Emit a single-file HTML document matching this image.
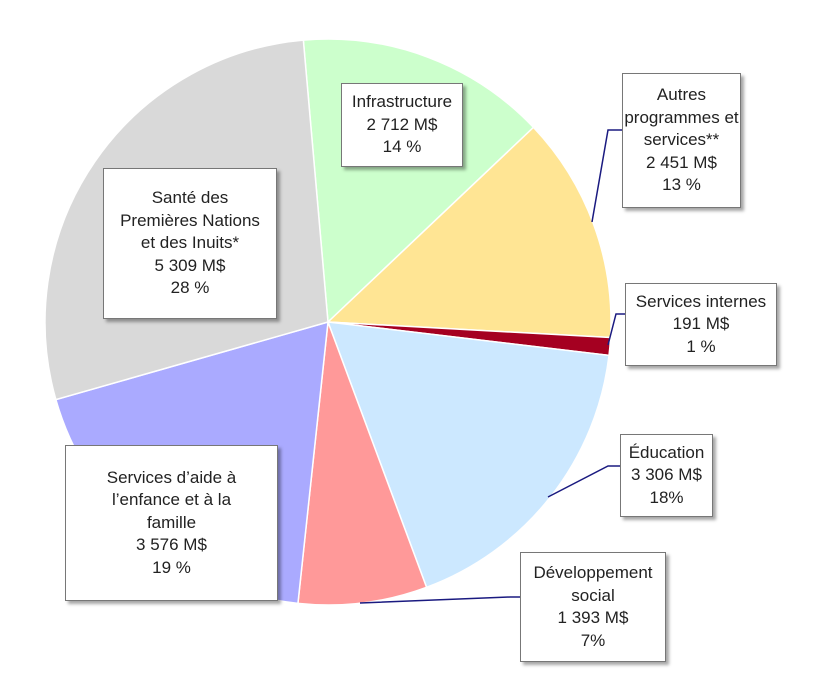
<!DOCTYPE html>
<html><head><meta charset="utf-8"><style>
body{margin:0;background:#fff;width:820px;height:690px;overflow:hidden;font-family:"Liberation Sans",sans-serif}
.lbl{position:absolute;background:#fff;border:1px solid #777;box-shadow:3px 3px 3px rgba(0,0,0,0.35);text-align:center;font-size:17px;line-height:22.5px;color:#222;display:flex;flex-direction:column;justify-content:center;box-sizing:border-box}
</style></head><body>
<svg id="chart" width="820" height="690" style="position:absolute;left:0;top:0">
<g id="slices"></g>
<g stroke="#1a1a80" stroke-width="1.5" fill="none">
<polyline points="592,222 608,130 622,130"/>
<polyline points="608,345 616,314 625,314"/>
<polyline points="548,497 608,466 620,466"/>
<polyline points="360,603 510,597 520,597"/>
</g>
</svg>
<div class="lbl" style="left:341px;top:83px;width:122px;height:84px">Infrastructure<br>2 712 M$<br>14 %</div>
<div class="lbl" style="left:622px;top:73px;width:119px;height:135px">Autres<br>programmes et<br>services**<br>2 451 M$<br>13 %</div>
<div class="lbl" style="left:625px;top:283px;width:152px;height:83px">Services internes<br>191 M$<br>1 %</div>
<div class="lbl" style="left:620px;top:434px;width:93px;height:83px">Éducation<br>3 306 M$<br>18%</div>
<div class="lbl" style="left:520px;top:552px;width:146px;height:110px">Développement<br>social<br>1 393 M$<br>7%</div>
<div class="lbl" style="left:65px;top:445px;width:213px;height:156px">Services d’aide à<br>l’enfance et à la<br>famille<br>3 576 M$<br>19 %</div>
<div class="lbl" style="left:103px;top:168px;width:174px;height:151px">Santé des<br>Premières Nations<br>et des Inuits*<br>5 309 M$<br>28 %</div>
<script>
const categories=["Infrastructure","Autres programmes et services","Services internes","Éducation","Développement social","Services d’aide à l’enfance et à la famille","Santé des Premières Nations et des Inuits"];
const values=[2712,2451,191,3306,1393,3576,5309];
const colors=["#ccffcc","#ffe594","#a50021","#cce8ff","#ff9999","#aaaaff","#d9d9d9"];
const cx=328,cy=322,r=283,startDeg=-5;
const total=values.reduce((a,b)=>a+b,0);
const g=document.getElementById('slices');
let a=startDeg*Math.PI/180;
function pt(t){return [cx+r*Math.sin(t),cy-r*Math.cos(t)];}
values.forEach((v,i)=>{
  const da=v/total*2*Math.PI;
  const p0=pt(a),p1=pt(a+da);
  const p=document.createElementNS('http://www.w3.org/2000/svg','path');
  p.setAttribute('d',`M${cx},${cy}L${p0[0]},${p0[1]}A${r},${r} 0 ${da>Math.PI?1:0} 1 ${p1[0]},${p1[1]}Z`);
  p.setAttribute('fill',colors[i]);
  p.setAttribute('stroke','#fff');
  p.setAttribute('stroke-width','1.5');
  
  
  g.appendChild(p);
  a+=da;
});
</script>
</body></html>
